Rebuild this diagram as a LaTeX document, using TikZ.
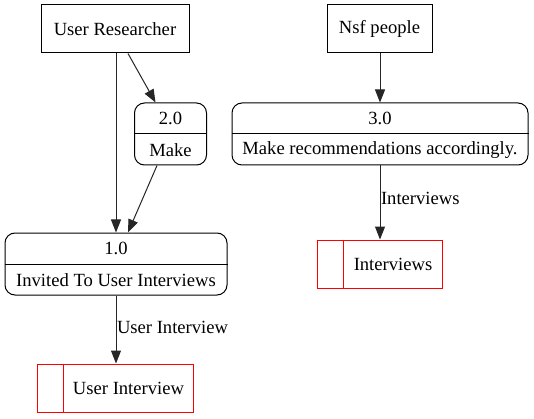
\documentclass[tikz,border=0pt]{standalone}
\usepackage{fontspec}
\setmainfont{Liberation Serif}
\usetikzlibrary{arrows.meta,calc}
\begin{document}
\begin{tikzpicture}[x=1pt,y=-1pt,
  every node/.style={font=\fontsize{18.6}{21}\selectfont, inner sep=0pt},
  ent/.style={draw, line width=1pt, rectangle},
  proc/.style={draw, line width=1pt, rectangle, rounded corners=10pt},
  store/.style={draw=red, line width=1pt, rectangle},
  arr/.style={-{Triangle[length=13pt,width=10pt]}, line width=1pt, draw=black!85},
  elabel/.style={anchor=west}]
\useasboundingbox[fill=white] (0,0) rectangle (534,419);

% external entities
\node[ent, minimum width=148pt, minimum height=48pt] (ur) at (115,29) {User Researcher};
\node[ent, minimum width=105pt, minimum height=48pt] (nsf) at (379.5,29) {Nsf people};

% processes
\node[proc, minimum width=72pt, minimum height=62pt] (p2) at (170.5,134) {};
\draw[line width=1pt] (p2.west) -- (p2.east);
\node (p2a) at ($(p2.north)!0.25!(p2.south)$) {2.0};
\node (p2b) at ($(p2.north)!0.75!(p2.south)$) {Make};

\node[proc, minimum width=222pt, minimum height=62pt] (p1) at (116,264) {};
\draw[line width=1pt] (p1.west) -- (p1.east);
\node (p1a) at ($(p1.north)!0.25!(p1.south)$) {1.0};
\node (p1b) at ($(p1.north)!0.75!(p1.south)$) {Invited To User Interviews};

\node[proc, minimum width=296pt, minimum height=62pt] (p3) at (380,134) {};
\draw[line width=1pt] (p3.west) -- (p3.east);
\node (p3a) at ($(p3.north)!0.25!(p3.south)$) {3.0};
\node (p3b) at ($(p3.north)!0.75!(p3.south)$) {Make recommendations accordingly.};

% data stores
\node[store, minimum width=125pt, minimum height=48pt] (s1) at (379.5,264) {};
\draw[red, line width=1pt] ([xshift=27pt]s1.north west) -- ([xshift=27pt]s1.south west);
\node (s1t) at ($([xshift=27pt]s1.west)!0.5!(s1.east)$) {Interviews};

\node[store, minimum width=156pt, minimum height=48pt] (s2) at (115,388) {};
\draw[red, line width=1pt] ([xshift=27pt]s2.north west) -- ([xshift=27pt]s2.south west);
\node (s2t) at ($([xshift=27pt]s2.west)!0.5!(s2.east)$) {User Interview};

% flows
\draw[arr] ([xshift=1pt]ur.south) -- (p1.north);
\draw[arr] ([xshift=13pt]ur.south) -- ([xshift=-15pt]p2.north);
\draw[arr] ([xshift=-13.5pt]p2.south) -- ([xshift=12pt]p1.north);
\draw[arr] ([xshift=0.5pt]nsf.south) -- (p3.north);
\draw[arr] (p3.south) -- ([xshift=0.5pt]s1.north) node[elabel, pos=0.44, xshift=0.5pt, text=black] {Interviews};
\draw[arr] (p1.south) -- ([xshift=1pt]s2.north) node[elabel, pos=0.47, xshift=0.5pt, text=black] {User Interview};
\end{tikzpicture}
\end{document}
